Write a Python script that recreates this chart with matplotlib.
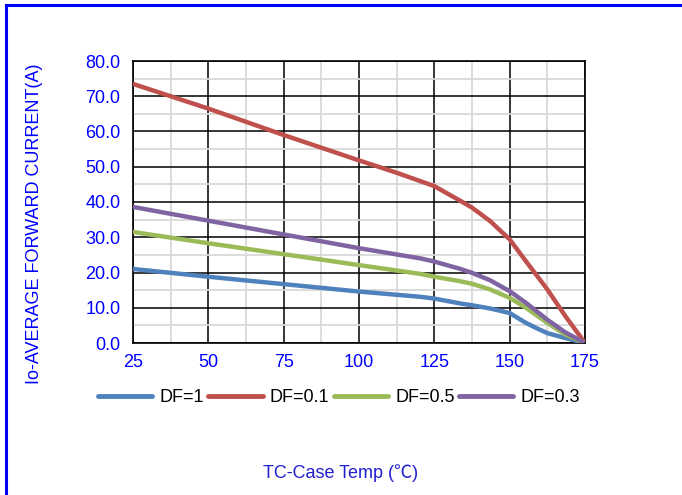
import matplotlib
matplotlib.use('Agg')
import matplotlib.pyplot as plt
from matplotlib.lines import Line2D
from matplotlib.ticker import MultipleLocator

plt.rcParams['font.family'] = ['Liberation Sans', 'Noto Sans CJK SC', 'DejaVu Sans']

# Values (TC in degC, Io in A)
temp_df1 = [25, 50, 75, 100, 120.4, 125, 133.7, 137.5, 143.5, 150, 152.7, 155.4, 158.7, 162.5, 168.5, 175]
io_df1 = [21.0, 18.8, 16.7, 14.6, 13.1, 12.6, 11.2, 10.7, 9.8, 8.5, 7.1, 5.7, 4.3, 2.8, 1.4, 0.0]

temp_df01 = [25, 50, 75, 100, 112.5, 120.4, 125, 133.7, 137.5, 143.5, 150, 155.4, 162.5, 168.5, 175]
io_df01 = [73.5, 66.5, 59.0, 51.8, 48.3, 45.9, 44.5, 40.3, 38.4, 34.6, 29.4, 23.2, 15.2, 7.6, 0.0]

temp_df05 = [25, 50, 75, 100, 120.4, 125, 133.7, 137.5, 143.5, 150, 155.4, 162.5, 168.5, 175]
io_df05 = [31.5, 28.3, 25.2, 22.1, 19.6, 18.8, 17.5, 16.8, 15.2, 12.8, 10.0, 5.7, 2.4, 0.0]

temp_df03 = [25, 50, 75, 100, 120.4, 125, 133.7, 137.5, 143.5, 150, 155.4, 162.5, 168.5, 175]
io_df03 = [38.6, 34.7, 30.8, 26.9, 24.0, 23.1, 21.0, 19.9, 17.8, 14.7, 11.4, 6.6, 3.0, 0.0]

series = [
    ('DF=1', temp_df1, io_df1, '#4F81BD'),
    ('DF=0.1', temp_df01, io_df01, '#C0504D'),
    ('DF=0.5', temp_df05, io_df05, '#9BBB59'),
    ('DF=0.3', temp_df03, io_df03, '#8064A2'),
]

W, H = 682, 495
fig = plt.figure(figsize=(W / 100, H / 100), dpi=100)
ax = fig.add_axes([133 / W, 1 - 343 / H, (585 - 133) / W, (343 - 61) / H])

for label, x, y, color in series:
    ax.plot(x, y, color=color, lw=3.2, label=label, solid_capstyle='round',
            solid_joinstyle='round', zorder=3)

ax.set_xlim(25, 175)
ax.set_ylim(0, 80)
ax.xaxis.set_major_locator(MultipleLocator(25))
ax.xaxis.set_minor_locator(MultipleLocator(12.5))
ax.yaxis.set_major_locator(MultipleLocator(10))
ax.yaxis.set_minor_locator(MultipleLocator(5))
ax.set_yticklabels([f'{v:.1f}' for v in ax.get_yticks()])

ax.grid(which='minor', color='#D9D9D9', lw=1.3, zorder=1)
ax.grid(which='major', color='black', lw=1.1, zorder=2)
ax.set_axisbelow(True)
for s in ax.spines.values():
    s.set_color('black')
    s.set_linewidth(1.2)

ax.tick_params(which='both', length=0, labelsize=13, labelcolor='#0000FF')
ax.tick_params(axis='y', pad=9)
ax.tick_params(axis='x', pad=8)

fig.text(35 / W, 1 - 224 / H, 'Io-AVERAGE FORWARD CURRENT(A)', rotation=90,
         ha='center', va='center', fontsize=13, color='#0000FF')
fig.text(341 / W, 1 - 473 / H, 'TC-Case Temp (\u2103)', ha='center', va='center',
         fontsize=13, color='#1F1FD0')

handles = [Line2D([], [], color=c, lw=3.5, solid_capstyle='round') for _, _, _, c in series]
fig.legend(handles, [s[0] for s in series], loc='center',
           bbox_to_anchor=(339 / W, 1 - 398 / H), ncol=4, frameon=False,
           fontsize=13, handlelength=3.0, handletextpad=0.4, columnspacing=0.25)

# blue frame at top and left
fig.add_artist(Line2D([6 / W, 6 / W], [0, 1 - 5 / H], color='#0000FF', lw=2.2,
                      transform=fig.transFigure))
fig.add_artist(Line2D([6 / W, 1], [1 - 5 / H, 1 - 5 / H], color='#0000FF', lw=2.2,
                      transform=fig.transFigure))

fig.savefig('out.png', dpi=100)
